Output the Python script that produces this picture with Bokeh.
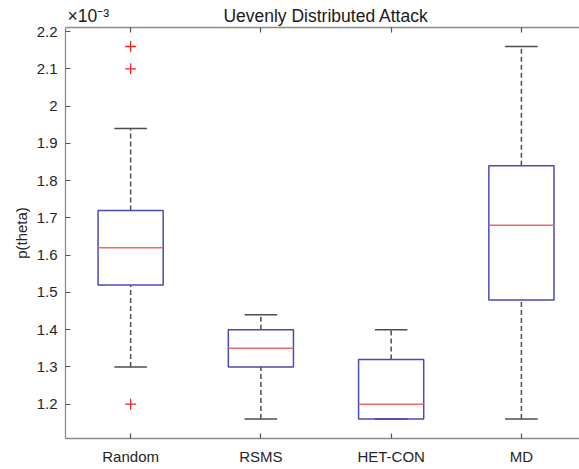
from bokeh.plotting import figure
from bokeh.models import Range1d, LinearAxis, FixedTicker, ColumnDataSource
from bokeh.embed import file_html
from bokeh.resources import INLINE

# data (values in units of 1e-3)
categories = ["Random", "RSMS", "HET-CON", "MD"]
positions = [1, 2, 3, 4]
q1 = [1.52, 1.30, 1.16, 1.48]
median = [1.62, 1.35, 1.20, 1.68]
q3 = [1.72, 1.40, 1.32, 1.84]
lower_whisker = [1.30, 1.16, 1.16, 1.16]
upper_whisker = [1.94, 1.44, 1.40, 2.16]
outlier_x = [1, 1, 1]
outlier_y = [2.16, 2.10, 1.20]
y_ticks = [1.2, 1.3, 1.4, 1.5, 1.6, 1.7, 1.8, 1.9, 2.0, 2.1, 2.2]
y_tick_labels = ["1.2", "1.3", "1.4", "1.5", "1.6", "1.7", "1.8", "1.9", "2", "2.1", "2.2"]
title_text = "Uevenly Distributed Attack"
exponent_text = "\u00d710\u207b\u00b3"

FONT = "Liberation Sans"
TEXT = "#262626"
AXIS = "#8c8c8c"
BOX = "#4a4ab4"
MED = "#f06868"
WHISK = "#4d4d4d"

p = figure(width=579, height=469, output_backend="svg", toolbar_location=None,
           x_range=Range1d(0.5, 4.446), y_range=Range1d(1.108, 2.211),
           x_axis_location=None, y_axis_location=None)
p.min_border_left = 65
p.min_border_right = 0
p.min_border_top = 27
p.min_border_bottom = 31
p.outline_line_color = None
p.xgrid.visible = False
p.ygrid.visible = False
p.background_fill_color = "white"
p.border_fill_color = "white"

half = 0.25
cap = 0.125
left = [x - half for x in positions]
right = [x + half for x in positions]
src = ColumnDataSource(dict(x=positions, left=left, right=right, q1=q1, q3=q3, med=median,
                            lw=lower_whisker, uw=upper_whisker,
                            cl=[x - cap for x in positions], cr=[x + cap for x in positions]))

# whiskers
p.segment(x0="x", y0="q3", x1="x", y1="uw", source=src, line_color=WHISK, line_width=1.5, line_dash="5 3")
p.segment(x0="x", y0="lw", x1="x", y1="q1", source=src, line_color=WHISK, line_width=1.5, line_dash="5 3")
# caps
p.segment(x0="cl", y0="uw", x1="cr", y1="uw", source=src, line_color=WHISK, line_width=1.5)
p.segment(x0="cl", y0="lw", x1="cr", y1="lw", source=src, line_color=WHISK, line_width=1.5)
# boxes
p.quad(left="left", right="right", bottom="q1", top="q3", source=src,
       fill_color=None, line_color=BOX, line_width=1.5)
# medians
p.segment(x0="left", y0="med", x1="right", y1="med", source=src, line_color=MED, line_width=1.5)
# outliers
p.scatter(outlier_x, outlier_y, marker="cross", size=11, line_color="#ff2020", line_width=1.3)


def style_axis(ax):
    ax.axis_line_color = AXIS
    ax.axis_line_width = 1.3
    ax.major_tick_line_color = "#555555"
    ax.major_tick_line_width = 1.2
    ax.major_tick_in = 5
    ax.major_tick_out = 0
    ax.minor_tick_line_color = None
    ax.major_label_text_font = FONT
    ax.major_label_text_font_size = "15px"
    ax.major_label_text_color = TEXT


yax = LinearAxis(ticker=FixedTicker(ticks=y_ticks),
                 major_label_overrides={t: s for t, s in zip(y_ticks, y_tick_labels)})
style_axis(yax)
yax.major_label_standoff = 8
yax.axis_label = "p(theta)"
yax.axis_label_text_font = FONT
yax.axis_label_text_font_size = "15px"
yax.axis_label_text_font_style = "normal"
yax.axis_label_text_color = TEXT
yax.axis_label_standoff = 4
p.add_layout(yax, "left")

xax = LinearAxis(ticker=FixedTicker(ticks=positions),
                 major_label_overrides={x: c for x, c in zip(positions, categories)})
style_axis(xax)
xax.major_label_standoff = 9
p.add_layout(xax, "below")

# top box edge: ticks at category positions (as minor ticks), and the
# title / exponent texts as its labels
exp_pos = 0.675
title_pos = 2.5
tax = LinearAxis(ticker=FixedTicker(ticks=[exp_pos, title_pos], minor_ticks=positions),
                 major_label_overrides={exp_pos: exponent_text, title_pos: title_text})
tax.axis_line_color = AXIS
tax.axis_line_width = 1.3
tax.major_tick_in = 0
tax.major_tick_out = 0
tax.major_tick_line_color = None
tax.minor_tick_line_color = "#555555"
tax.minor_tick_line_width = 1.2
tax.minor_tick_in = 5
tax.minor_tick_out = 0
tax.major_label_text_font = FONT
tax.major_label_text_font_size = "17.5px"
tax.major_label_text_color = "#1a1a1a"
tax.major_label_standoff = 2
p.add_layout(tax, "above")

open("out.html", "w").write(file_html(p, INLINE))
